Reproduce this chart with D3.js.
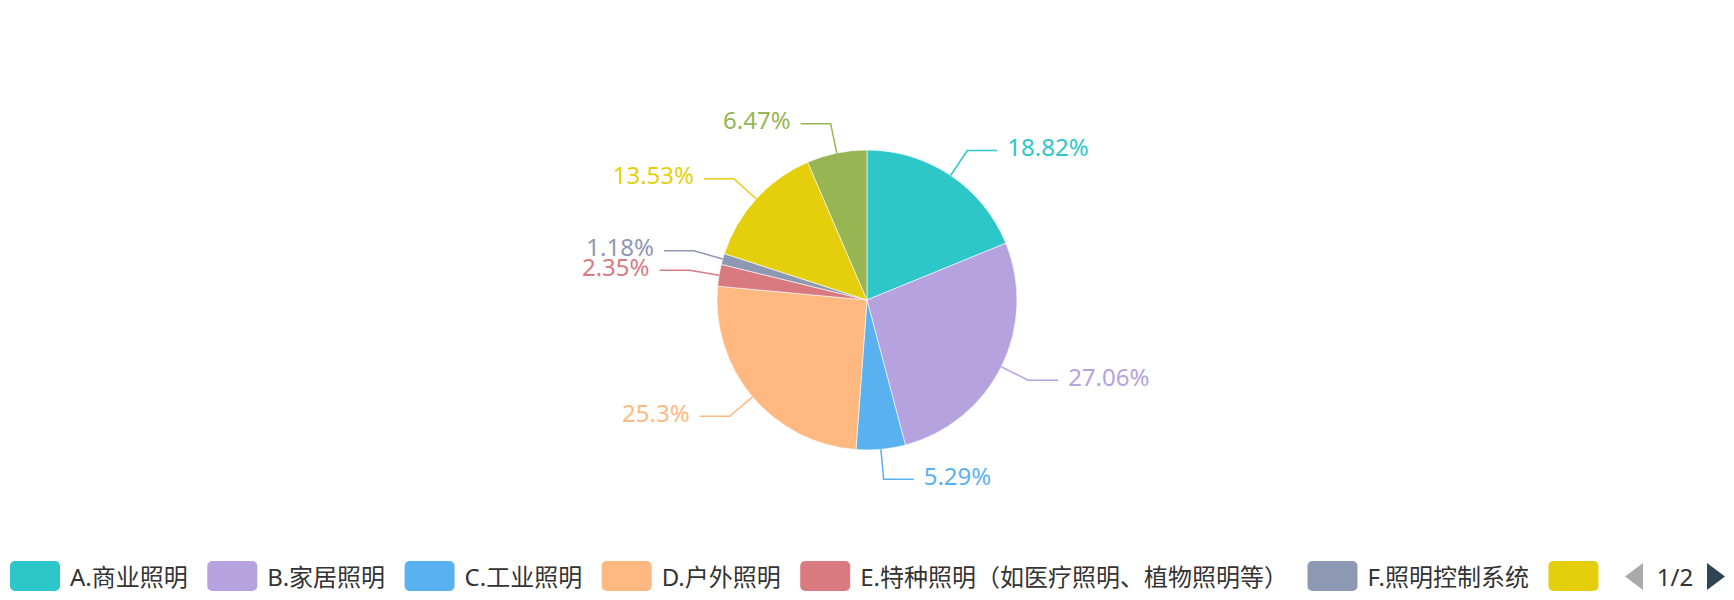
<!DOCTYPE html>
<html>
<head>
<meta charset="utf-8">
<script src="https://cdn.jsdelivr.net/npm/d3@7/dist/d3.min.js"></script>
<style>
  html, body { margin: 0; padding: 0; background: #fff; }
  svg { display: block; }
  text { font-family: "Noto Sans", "Noto Sans CJK SC", sans-serif; }
</style>
</head>
<body>
<svg id="chart" width="1734" height="600"></svg>
<script>
// ---- data ----
const categories = ["A.商业照明", "B.家居照明", "C.工业照明", "D.户外照明",
  "E.特种照明（如医疗照明、植物照明等）", "F.照明控制系统", "G", "H"];
const values = [18.82, 27.06, 5.29, 25.3, 2.35, 1.18, 13.53, 6.47];
const colors = ["#2ec7c9", "#b6a2de", "#5ab1ef", "#ffb980", "#d87a80", "#8d98b3", "#e5cf0d", "#97b552"];
const pageLabel = "1/2";

// ---- layout ----
const W = 1734, H = 600;
const cx = 867, cy = 300, R = 150;
const len1 = 30, len2 = 30, textGap = 10;

const svg = d3.select("#chart");
const g = svg.append("g").attr("transform", `translate(${cx},${cy})`);

const pie = d3.pie().sort(null).value(d => d)(values);
const arc = d3.arc().innerRadius(0).outerRadius(R);
const color = d3.scaleOrdinal().domain(d3.range(values.length)).range(colors);

g.selectAll("path.slice").data(pie).join("path")
  .attr("class", "slice")
  .attr("d", arc)
  .attr("fill", (d, i) => color(i))
  .attr("stroke", "#fff").attr("stroke-width", 0.6);

// labels
pie.forEach((d, i) => {
  const mid = (d.startAngle + d.endAngle) / 2;
  const s = Math.sin(mid), c = -Math.cos(mid);
  const p0 = [s * R, c * R];
  const p1 = [s * (R + len1), c * (R + len1)];
  const right = s >= 0;
  const p2 = [p1[0] + (right ? len2 : -len2), p1[1]];
  g.append("polyline")
    .attr("points", [p0, p1, p2].map(p => p.join(",")).join(" "))
    .attr("fill", "none").attr("stroke", color(i)).attr("stroke-width", 1.5);
  g.append("text")
    .attr("x", p2[0] + (right ? textGap : -textGap))
    .attr("y", p1[1] - 4)
    .attr("text-anchor", right ? "start" : "end")
    .attr("dominant-baseline", "central")
    .attr("fill", color(i))
    .attr("font-size", 24)
    .text(values[i] + "%");
});

// legend (scroll style, page 1)
const clipX = 1604;
svg.append("clipPath").attr("id", "legclip")
  .append("rect").attr("x", 0).attr("y", 540).attr("width", clipX).attr("height", 60);
const leg = svg.append("g").attr("clip-path", "url(#legclip)");
const legY = 576, iconW = 50, iconH = 30, itemGap = 19.5;
let x = 10;
categories.forEach((name, i) => {
  if (x >= clipX) return;
  leg.append("rect")
    .attr("x", x).attr("y", legY - iconH / 2)
    .attr("width", iconW).attr("height", iconH)
    .attr("rx", 5).attr("ry", 5)
    .attr("fill", color(i));
  const t = leg.append("text")
    .attr("x", x + iconW + 10).attr("y", legY)
    .attr("dominant-baseline", "central")
    .attr("fill", "#333").attr("font-size", 24)
    .text(name);
  const tw = t.node().getComputedTextLength();
  if (x + iconW + 10 + tw > clipX) t.remove();
  x = x + iconW + 10 + tw + itemGap;
});

// pager
svg.append("path")
  .attr("d", "M1643,563 L1625,576.5 L1643,590 Z")
  .attr("fill", "#aaa");
svg.append("text")
  .attr("x", 1675).attr("y", legY)
  .attr("text-anchor", "middle").attr("dominant-baseline", "central")
  .attr("fill", "#333").attr("font-size", 24)
  .text(pageLabel);
svg.append("path")
  .attr("d", "M1707,563 L1725,576.5 L1707,590 Z")
  .attr("fill", "#2f4554");
</script>
</body>
</html>
